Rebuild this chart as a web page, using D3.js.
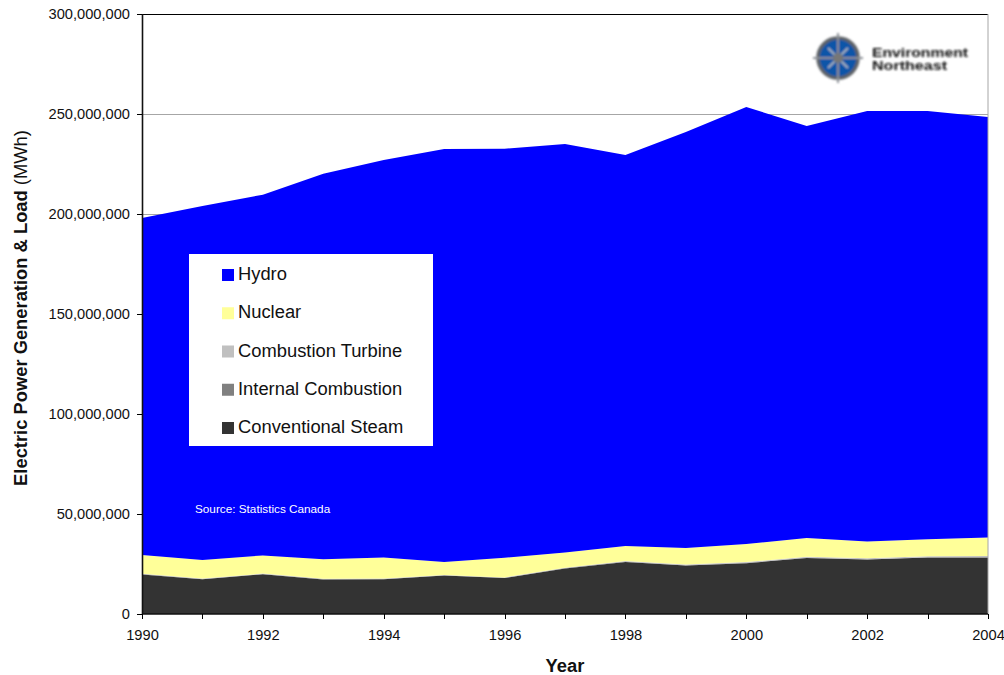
<!DOCTYPE html>
<html>
<head>
<meta charset="utf-8">
<script src="https://cdn.jsdelivr.net/npm/d3@7"></script>
<style>
  html, body { margin: 0; padding: 0; background: #fff; }
  svg { display: block; font-family: "Liberation Sans", Arial, sans-serif; }
</style>
</head>
<body>
<svg id="chart" width="1004" height="675"></svg>
<script>
// Electricity generation by source, MWh
const years = [1990,1991,1992,1993,1994,1995,1996,1997,1998,1999,2000,2001,2002,2003,2004];
const conventionalSteam = [19800000,17400000,19900000,17300000,17400000,19200000,18000000,22800000,26000000,24200000,25400000,28000000,27200000,28200000,28200000];
const internalCombustion = [150000,150000,150000,150000,150000,150000,150000,150000,200000,200000,200000,200000,200000,200000,200000];
const combustionTurbine = [150000,150000,150000,150000,150000,150000,150000,150000,300000,300000,400000,400000,500000,500000,600000];
const nuclear = [9400000,9300000,9100000,9800000,10500000,6500000,9800000,7700000,7500000,8300000,9000000,9400000,8400000,8500000,9300000];
const hydro = [168500000,177000000,180350000,192750000,198800000,206500000,204550000,204200000,195500000,208000000,218500000,206000000,215200000,214100000,210200000];

const seriesNames = ["Conventional Steam","Internal Combustion","Combustion Turbine","Nuclear","Hydro"];
const seriesColors = ["#333333","#808080","#c0c0c0","#ffff99","#0000ff"];
const legendOrder = ["Hydro","Nuclear","Combustion Turbine","Internal Combustion","Conventional Steam"];
const yTicks = [0,50000000,100000000,150000000,200000000,250000000,300000000];
const xTickLabels = [1990,1992,1994,1996,1998,2000,2002,2004];

const svg = d3.select("#chart");
const left = 142, right = 988, top_ = 14, bottom = 614;

const x = d3.scaleLinear().domain([1990,2004]).range([left,right]);
const y = d3.scaleLinear().domain([0,300000000]).range([bottom,top_]);
const color = d3.scaleOrdinal(seriesNames, seriesColors);

const table = years.map((year,i) => ({
  year,
  "Conventional Steam": conventionalSteam[i],
  "Internal Combustion": internalCombustion[i],
  "Combustion Turbine": combustionTurbine[i],
  "Nuclear": nuclear[i],
  "Hydro": hydro[i]
}));
const layers = d3.stack().keys(seriesNames)(table);

// Gridlines sit behind the stacked areas
svg.append("g").selectAll("line")
  .data(yTicks.slice(1))
  .join("line")
  .attr("x1", left).attr("x2", right)
  .attr("y1", d => y(d)).attr("y2", d => y(d))
  .attr("stroke", d => d === 300000000 ? "#000" : "#a6a6a6")
  .attr("stroke-width", 1)
  .attr("shape-rendering", "crispEdges");

const area = d3.area()
  .x(d => x(d.data.year))
  .y0(d => y(d[0]))
  .y1(d => y(d[1]));

svg.append("g").selectAll("path")
  .data(layers)
  .join("path")
  .attr("d", area)
  .attr("fill", d => color(d.key));

// Right edge of the plot
svg.append("line")
  .attr("x1", right).attr("x2", right)
  .attr("y1", top_).attr("y2", bottom)
  .attr("stroke", "#a6a6a6");

// Axes
const yAxis = d3.axisLeft(y)
  .tickValues(yTicks)
  .tickSize(5).tickPadding(7)
  .tickFormat(d3.format(","));
const xAxis = d3.axisBottom(x)
  .tickValues(years)
  .tickSize(5).tickPadding(10.5)
  .tickFormat(d => xTickLabels.includes(d) ? String(d) : "");

const gy = svg.append("g").attr("transform", `translate(${left},0)`).call(yAxis);
const gx = svg.append("g").attr("transform", `translate(0,${bottom})`).call(xAxis);
for (const g of [gx, gy]) {
  g.selectAll("text").attr("font-size", 14.67).attr("fill", "#111").attr("font-family", '"Liberation Sans", Arial, sans-serif');
  g.selectAll("line").attr("stroke", "#000").attr("shape-rendering", "crispEdges");
  g.select(".domain").attr("stroke", "#111").attr("stroke-width", 1.6);
}
gx.select(".domain").attr("d", `M${left},0H${right}`);
gy.select(".domain").attr("d", `M0.5,${top_}V${bottom}`);

// Axis titles
svg.append("text")
  .attr("x", 565).attr("y", 671.5)
  .attr("text-anchor", "middle")
  .attr("font-size", 18.35).attr("font-weight", "bold")
  .attr("fill", "#111")
  .text("Year");

const yTitle = svg.append("text")
  .attr("transform", "translate(26.5,308) rotate(-90)")
  .attr("text-anchor", "middle")
  .attr("font-size", 18.35)
  .attr("fill", "#111");
yTitle.append("tspan").attr("font-weight", "bold").text("Electric Power Generation & Load");
yTitle.append("tspan").text(" (MWh)");

// Legend
const legend = svg.append("g");
legend.append("rect")
  .attr("x", 189).attr("y", 254)
  .attr("width", 244).attr("height", 192)
  .attr("fill", "#fff");
const rowY = d3.scaleLinear().domain([0,4]).range([269,422]);
const legendRows = legend.selectAll("g")
  .data(legendOrder)
  .join("g")
  .attr("transform", (d,i) => `translate(222,${rowY(i)})`);
legendRows.append("rect")
  .attr("width", 12).attr("height", 12)
  .attr("fill", d => color(d));
legendRows.append("text")
  .attr("x", 16).attr("y", 11)
  .attr("font-size", 18.35)
  .attr("fill", "#111")
  .text(d => d);

// Source note
svg.append("text")
  .attr("x", 195).attr("y", 513)
  .attr("font-size", 11.75)
  .attr("fill", "#fff")
  .text("Source: Statistics Canada");

// Organisation mark: compass emblem and name
const defs = svg.append("defs");
defs.append("filter").attr("id","soft").append("feGaussianBlur").attr("stdDeviation",0.8);
const logo = svg.append("g").attr("filter","url(#soft)");
const emblem = logo.append("g").attr("transform","translate(838,58)");
emblem.append("circle").attr("r",20).attr("fill","#0a55a8").attr("stroke","#5f6368").attr("stroke-width",3.5);
emblem.append("line").attr("x1",-25).attr("x2",25).attr("stroke","#8a8f96").attr("stroke-width",2);
emblem.append("line").attr("y1",-25).attr("y2",25).attr("stroke","#8a8f96").attr("stroke-width",2);
emblem.append("line").attr("x1",-10).attr("x2",10).attr("y1",-10).attr("y2",10).attr("stroke","#a9b4c0").attr("stroke-width",2);
emblem.append("line").attr("x1",-10).attr("x2",10).attr("y1",10).attr("y2",-10).attr("stroke","#a9b4c0").attr("stroke-width",2);
emblem.append("circle").attr("r",5).attr("fill","#777");
logo.append("text").attr("x",872).attr("y",56.5)
  .attr("font-size",13).attr("font-weight","bold").attr("fill","#111")
  .attr("textLength",96).attr("lengthAdjust","spacingAndGlyphs").text("Environment");
logo.append("text").attr("x",872).attr("y",70)
  .attr("font-size",13).attr("font-weight","bold").attr("fill","#111")
  .attr("textLength",75).attr("lengthAdjust","spacingAndGlyphs").text("Northeast");
</script>
</body>
</html>
